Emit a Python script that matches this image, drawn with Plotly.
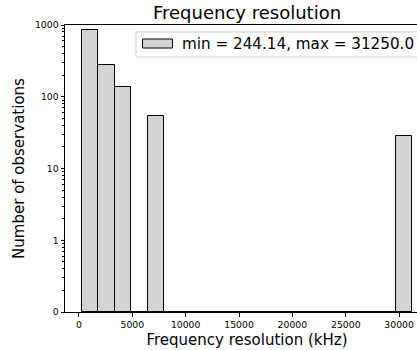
import numpy as np
import plotly.graph_objects as go

# ---- data ----
x_min = 244.14
x_max = 31250.0
n_bins = 20
counts = [851, 276, 136, 0, 54, 0, 0, 0, 0, 0,
          0, 0, 0, 0, 0, 0, 0, 0, 0, 28]
x_tick_vals = [0, 5000, 10000, 15000, 20000, 25000, 30000]
x_tick_text = ["0", "5000", "10000", "15000", "20000", "25000", "30000"]
y_tick_vals = [0, 1, 10, 100, 1000]
y_tick_text = ["0", "1", "10", "100", "1000"]
legend_label = f"min = {x_min}, max = {x_max}"


def symlog(v):
    """symmetric-log transform with linear threshold 1 (one decade wide)."""
    v = np.asarray(v, dtype=float)
    return np.where(v <= 1, v, 1 + np.log10(np.maximum(v, 1)))


edges = np.linspace(x_min, x_max, n_bins + 1)
centers = (edges[:-1] + edges[1:]) / 2
width = edges[1] - edges[0]

# minor tick positions (values) in each decade
minor_vals = []
for dec in [1, 10, 100]:
    for k in range(2, 10):
        minor_vals.append(dec * k)
minor_pos = list(symlog(minor_vals))
# linear region 0..1 minor ticks (look like decade pattern)
minor_pos += [float(np.log10(k)) for k in range(2, 10)]

FONT = "DejaVu Sans"
W, H = 430, 350
ml, mr, mt, mb = 65, 1, 25, 38
pw = W - ml - mr
ph = H - mt - mb

fig = go.Figure()
fig.add_trace(go.Bar(
    x=centers, y=symlog(counts), width=width,
    marker=dict(color="#d3d3d3", line=dict(color="black", width=1)),
    showlegend=False,
))

xr = [x_min - 0.05 * (x_max - x_min), x_max + 0.05 * (x_max - x_min)]

fig.update_layout(
    width=W, height=H,
    margin=dict(l=ml, r=mr, t=mt, b=mb),
    plot_bgcolor="white", paper_bgcolor="white",
    font=dict(family=FONT, color="black"),
    bargap=0,
    xaxis=dict(
        range=xr, tickvals=x_tick_vals, ticktext=x_tick_text,
        ticks="outside", ticklen=3.5, tickwidth=0.8, tickcolor="black",
        tickfont=dict(size=9.3, family=FONT),
        showline=True, linecolor="black", linewidth=1, mirror=True,
        showgrid=False, zeroline=False,
        title=dict(text="Frequency resolution (kHz)", font=dict(size=15, family=FONT), standoff=5),
    ),
    yaxis=dict(
        range=[0, 4], tickvals=list(symlog(y_tick_vals)), ticktext=y_tick_text,
        ticks="outside", ticklen=3.5, tickwidth=0.8, tickcolor="black",
        tickfont=dict(size=9.3, family=FONT),
        showline=True, linecolor="black", linewidth=1, mirror=True,
        showgrid=False, zeroline=False,
        minor=dict(tickvals=minor_pos, ticks="outside", ticklen=2, tickwidth=0.6, tickcolor="black", showgrid=False),
        title=dict(text="Number of observations", font=dict(size=15, family=FONT), standoff=6),
    ),
)

# title
fig.add_annotation(
    text="Frequency resolution", xref="paper", yref="paper",
    x=0.5, y=1 + 12 / ph, xanchor="center", yanchor="middle",
    showarrow=False, font=dict(size=18, family=FONT, color="black"),
)

# legend drawn as box + patch + label
def px_x(p):
    return (p - ml) / pw


def px_y(p):
    return 1 - (p - mt) / ph


fig.add_shape(type="rect", xref="paper", yref="paper",
              x0=px_x(136), x1=px_x(428), y0=px_y(57), y1=px_y(32),
              line=dict(color="#d0d0d0", width=1), fillcolor="rgba(255,255,255,0.8)")
fig.add_shape(type="rect", xref="paper", yref="paper",
              x0=px_x(142.5), x1=px_x(172.5), y0=px_y(48), y1=px_y(39),
              line=dict(color="black", width=1), fillcolor="#d3d3d3")
fig.add_annotation(
    text=legend_label, xref="paper", yref="paper",
    x=px_x(180), y=px_y(44), xanchor="left", yanchor="middle",
    showarrow=False, font=dict(size=15.2, family=FONT, color="black"),
)

fig.write_html("out.html",
               config={"displayModeBar": False},
               post_script="document.body.style.margin='0';document.body.style.overflow='hidden';")
